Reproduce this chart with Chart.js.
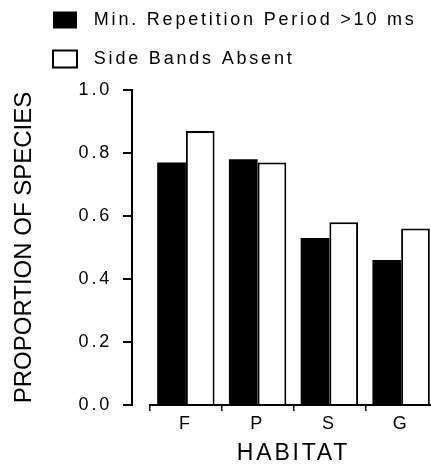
<!DOCTYPE html>
<html>
<head>
<meta charset="utf-8">
<script src="https://cdn.jsdelivr.net/npm/chart.js@4"></script>
<style>
  html, body { margin: 0; padding: 0; background: #fff; overflow: hidden; }
</style>
</head>
<body>
<canvas id="habitatChart" width="437" height="470"></canvas>
<script>
/**
 * Proportion of species by habitat
 * Two bar series, black filled and white outlined
 */

var habitats = ['F', 'P', 'S', 'G'];
var seriesNames = ['Min. Repetition Period >10 ms', 'Side Bands Absent'];
var minRepetition = [0.77, 0.78, 0.53, 0.46];
var sideBandsAbsent = [0.87, 0.77, 0.58, 0.56];
var yTicks = [0, 0.2, 0.4, 0.6, 0.8, 1.0];

Chart.defaults.font.family = '"Liberation Sans", Arial, Helvetica, sans-serif';
Chart.defaults.color = '#000';

// the scanned figure uses wide letter spacing, except on the y title
// (y grid layer holds the title and is drawn after the bars, see grid.z)
var spacing = {
    id: 'spacing',
    beforeUpdate: function (chart) { chart.ctx.letterSpacing = '2.8px'; },
    beforeDraw: function (chart) { chart.ctx.letterSpacing = '2.8px'; },
    afterDatasetsDraw: function (chart) { chart.ctx.letterSpacing = '0px'; }
};

// legend is indented and sits high above the plot
var legendShift = {
    id: 'legendShift',
    afterLayout: function (chart) {
        var lg = chart.legend;
        lg.left += 32; lg.right += 32;
        lg.top -= 12; lg.bottom -= 12;
    }
};

var ctxEl = document.getElementById('habitatChart');
new Chart(ctxEl.getContext('2d'), {
    type: 'bar',
    data: {
        labels: habitats,
        datasets: [
            { label: seriesNames[0], data: minRepetition, backgroundColor: '#000', borderColor: '#000', borderWidth: 0 },
            { label: seriesNames[1], data: sideBandsAbsent, backgroundColor: '#fff', borderColor: '#000', borderWidth: 2 }
        ]
    },
    options: {
        responsive: false, animation: false,
        categoryPercentage: 0.8, barPercentage: 1.0,
        layout: { padding: { top: 2, left: 0, right: 0, bottom: 0 } },
        plugins: {
            tooltip: { enabled: false },
            legend: {
                position: 'top', align: 'start',
                labels: {
                    boxWidth: 24, boxHeight: 17, padding: 21, color: '#000', font: { size: 18 },
                    generateLabels: function (chart) {
                        var items = Chart.defaults.plugins.legend.labels.generateLabels(chart);
                        items.forEach(function (it) { it.text = ' ' + it.text; });
                        return items;
                    }
                }
            }
        },
        scales: {
            x: {
                grid: { display: true, drawOnChartArea: false, offset: true, tickLength: 6, color: '#000', lineWidth: 1.5 },
                border: { display: true, color: '#000', width: 2 },
                ticks: { font: { size: 18 }, color: '#000', padding: 2 },
                title: { display: true, text: 'HABITAT', font: { size: 23 }, color: '#000', padding: { top: 4, bottom: 3 } },
                afterFit: function (s) { s.height = 65; }
            },
            y: {
                min: 0, max: 1, weight: 1,
                afterBuildTicks: function (s) { s.ticks = yTicks.map(function (v) { return { value: v }; }); },
                grid: { drawOnChartArea: false, tickLength: 9, color: '#000', lineWidth: 2, z: 1 },
                border: { display: true, color: '#000', width: 2, z: 1 },
                ticks: { font: { size: 18 }, color: '#000', padding: 11, callback: function (v) { return v.toFixed(1); } },
                title: { display: true, text: 'PROPORTION OF SPECIES', font: { size: 24 }, color: '#000', padding: { top: 10, bottom: 0 } },
                afterFit: function (s) { s.width = 132; }
            },
            // empty spacer so the category axis starts right of the value axis
            gap: {
                type: 'linear', position: 'left', weight: 0,
                grid: { display: false }, border: { display: false }, ticks: { display: false },
                afterFit: function (s) { s.width = 18; }
            }
        }
    },
    plugins: [spacing, legendShift]
});
</script>
</body>
</html>
